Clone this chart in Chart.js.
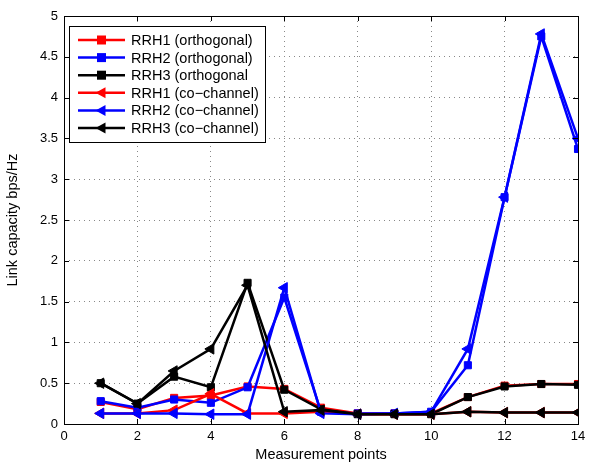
<!DOCTYPE html>
<html>
<head>
<meta charset="utf-8">
<script src="https://cdn.jsdelivr.net/npm/chart.js@4"></script>
<style>
  html, body { margin: 0; padding: 0; background: #fff; }
  #chart { display: block; }
</style>
</head>
<body>
<canvas id="chart" width="595" height="464"></canvas>
<script>
// Link capacity per measurement point, orthogonal vs co-channel.
const points = [1, 2, 3, 4, 5, 6, 7, 8, 9, 10, 11, 12, 13, 14];

const rrh1Orth = [0.27, 0.18, 0.32, 0.35, 0.46, 0.43, 0.20, 0.13, 0.13, 0.13, 0.33, 0.47, 0.49, 0.49];
const rrh2Orth = [0.28, 0.20, 0.30, 0.26, 0.45, 1.55, 0.15, 0.13, 0.13, 0.15, 0.72, 2.78, 4.75, 3.37];
const rrh3Orth = [0.50, 0.25, 0.58, 0.45, 1.73, 0.42, 0.18, 0.12, 0.12, 0.12, 0.33, 0.46, 0.49, 0.48];
const rrh1Co = [0.13, 0.13, 0.17, 0.37, 0.13, 0.13, 0.15, 0.12, 0.12, 0.12, 0.15, 0.14, 0.14, 0.14];
const rrh2Co = [0.13, 0.13, 0.13, 0.12, 0.12, 1.67, 0.13, 0.12, 0.13, 0.15, 0.92, 2.78, 4.78, 3.50];
const rrh3Co = [0.50, 0.25, 0.65, 0.92, 1.70, 0.15, 0.17, 0.12, 0.12, 0.12, 0.15, 0.14, 0.14, 0.14];

const seriesNames = [
  "RRH1 (orthogonal)", "RRH2 (orthogonal)", "RRH3 (orthogonal",
  "RRH1 (co\u2212channel)", "RRH2 (co\u2212channel)", "RRH3 (co\u2212channel)"
];
const seriesData = [rrh1Orth, rrh2Orth, rrh3Orth, rrh1Co, rrh2Co, rrh3Co];
const seriesColors = ["#ff0000", "#0000ff", "#000000", "#ff0000", "#0000ff", "#000000"];
const seriesMarkers = ["rect", "rect", "rect", "triangle", "triangle", "triangle"];

const FONT = "'Liberation Sans', Arial, sans-serif";

function makeDataset(i) {
  const tri = seriesMarkers[i] === "triangle";
  return {
    label: seriesNames[i],
    data: points.map((x, k) => ({ x, y: seriesData[i][k] })),
    borderColor: seriesColors[i],
    backgroundColor: seriesColors[i],
    borderWidth: 2.5,
    pointStyle: seriesMarkers[i],
    pointRotation: tri ? -90 : 0,
    pointRadius: tri ? 6 : 5,
    pointBorderWidth: 1,
    tension: 0,
    order: 6 - i, // later series drawn on top, like MATLAB
  };
}

// box with inward ticks + legend
const framePlugin = {
  id: "frame",
  afterDraw(chart) {
    const { ctx, chartArea: a, scales } = chart;
    ctx.save();
    ctx.strokeStyle = "#000";
    ctx.lineWidth = 1;
    ctx.strokeRect(a.left + 0.5, a.top + 0.5, a.right - a.left, a.bottom - a.top);
    ctx.beginPath();
    scales.x.ticks.forEach((t) => {
      const px = Math.round(scales.x.getPixelForValue(t.value)) + 0.5;
      ctx.moveTo(px, a.bottom); ctx.lineTo(px, a.bottom - 5);
      ctx.moveTo(px, a.top); ctx.lineTo(px, a.top + 5);
    });
    scales.y.ticks.forEach((t) => {
      const py = Math.round(scales.y.getPixelForValue(t.value)) + 0.5;
      ctx.moveTo(a.left, py); ctx.lineTo(a.left + 5, py);
      ctx.moveTo(a.right, py); ctx.lineTo(a.right - 5, py);
    });
    ctx.stroke();

    // legend
    const lx = a.left + 5, ly = a.top + 10, lw = 196, lh = 116, rowH = 17.6;
    ctx.fillStyle = "#fff";
    ctx.fillRect(lx, ly, lw, lh);
    ctx.strokeRect(lx + 0.5, ly + 0.5, lw, lh);
    ctx.font = "14.5px " + FONT;
    ctx.textBaseline = "middle";
    seriesNames.forEach((name, i) => {
      const y = ly + 14 + i * rowH;
      const x0 = lx + 9, x1 = lx + 56, xm = (x0 + x1) / 2;
      ctx.strokeStyle = seriesColors[i];
      ctx.fillStyle = seriesColors[i];
      ctx.lineWidth = 2.5;
      ctx.beginPath(); ctx.moveTo(x0, y); ctx.lineTo(x1, y); ctx.stroke();
      if (seriesMarkers[i] === "rect") {
        ctx.fillRect(xm - 4.5, y - 4.5, 9, 9);
      } else {
        ctx.beginPath();
        ctx.moveTo(xm - 6, y); ctx.lineTo(xm + 4, y - 5.5); ctx.lineTo(xm + 4, y + 5.5);
        ctx.closePath(); ctx.fill();
      }
      ctx.fillStyle = "#000";
      ctx.fillText(name, lx + 62, y + 1);
    });
    ctx.restore();
  },
};

new Chart(document.getElementById("chart"), {
  type: "line",
  data: { datasets: seriesData.map((_, i) => makeDataset(i)) },
  options: {
    responsive: false,
    animation: false,
    layout: { padding: { left: 0, right: 17, top: 16, bottom: 0 } },
    plugins: { legend: { display: false }, tooltip: { enabled: false } },
    scales: {
      x: {
        type: "linear", min: 0, max: 14,
        afterFit: (s) => { s.height = 40; s.paddingLeft = 0; s.paddingRight = 0; },
        ticks: { stepSize: 2, color: "#000", font: { family: FONT, size: 13 }, padding: 5 },
        grid: { color: "#888", lineWidth: 1, drawTicks: false },
        border: { display: false, dash: [1, 4] },
        title: { display: true, text: "Measurement points", color: "#000", font: { family: FONT, size: 14.5 }, padding: { top: -4, bottom: 0 } },
      },
      y: {
        type: "linear", min: 0, max: 5,
        afterFit: (s) => { s.width = 64; s.paddingTop = 0; s.paddingBottom = 0; },
        ticks: { stepSize: 0.5, color: "#000", font: { family: FONT, size: 13 }, padding: 6, callback: (v) => String(v) },
        grid: { color: "#888", lineWidth: 1, drawTicks: false },
        border: { display: false, dash: [1, 4] },
        title: { display: true, text: "Link capacity bps/Hz", color: "#000", font: { family: FONT, size: 14.5 }, padding: { bottom: 6 } },
      },
    },
  },
  plugins: [framePlugin],
});
</script>
</body>
</html>
